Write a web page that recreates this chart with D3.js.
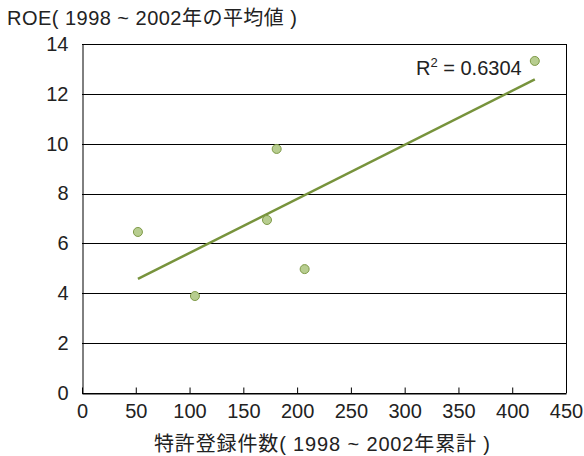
<!DOCTYPE html>
<html><head><meta charset="utf-8">
<script src="https://cdn.jsdelivr.net/npm/d3@7"></script>
<style>body{margin:0;background:#fff}</style>
</head><body>
<svg id="c" width="584" height="456"></svg>
<script>
const patents = [52, 105, 172, 181, 207, 421];
const roe = [6.46, 3.89, 6.94, 9.79, 4.97, 13.32];
const xTicks = [0, 50, 100, 150, 200, 250, 300, 350, 400, 450];
const yTicks = [0, 2, 4, 6, 8, 10, 12, 14];
const yTitle = "ROE( 1998 ~ 2002年の平均値 )";
const xTitle = "特許登録件数( 1998 ~ 2002年累計 )";
const r2Label = "0.6304";

const font = "'Liberation Sans', Arial, 'Noto Sans CJK JP', sans-serif";
const svg = d3.select("#c");
const x = d3.scaleLinear().domain([0, 450]).range([82, 566]);
const y = d3.scaleLinear().domain([0, 14]).range([393, 44]);

// gridlines
svg.append("g").selectAll("line").data(yTicks).join("line")
  .attr("x1", x(0)).attr("x2", x(450))
  .attr("y1", d => Math.round(y(d)) + 0.5).attr("y2", d => Math.round(y(d)) + 0.5)
  .attr("stroke", "#000").attr("stroke-width", 1);
// right border
svg.append("line").attr("x1", Math.round(x(450)) + 0.5).attr("x2", Math.round(x(450)) + 0.5)
  .attr("y1", y(14)).attr("y2", y(0)).attr("stroke", "#000");

// x axis
const xa = svg.append("g").attr("transform", `translate(0,${Math.round(y(0)) + 0.5})`)
  .call(d3.axisBottom(x).tickValues(xTicks).tickSizeInner(-6).tickSizeOuter(0).tickPadding(10));
xa.select(".domain").attr("stroke", "#000");
xa.selectAll("text").attr("font-family", font).attr("font-size", 20).attr("fill", "#222");
// y axis
const ya = svg.append("g").attr("transform", `translate(${Math.round(x(0)) + 0.5},0)`)
  .call(d3.axisLeft(y).tickValues(yTicks).tickSize(0).tickPadding(14));
ya.select(".domain").attr("stroke", "#000");
ya.selectAll("text").attr("font-family", font).attr("font-size", 20).attr("fill", "#222");

// regression
const n = patents.length;
const mx = d3.mean(patents), my = d3.mean(roe);
let sxy = 0, sxx = 0;
for (let i = 0; i < n; i++) { sxy += (patents[i]-mx)*(roe[i]-my); sxx += (patents[i]-mx)**2; }
const b = sxy / sxx, a = my - b * mx;
const x0 = d3.min(patents), x1 = d3.max(patents);
svg.append("line").attr("x1", x(x0)).attr("y1", y(a + b*x0)).attr("x2", x(x1)).attr("y2", y(a + b*x1))
  .attr("stroke", "#77933c").attr("stroke-width", 2.5);

// points
svg.append("g").selectAll("circle").data(patents).join("circle")
  .attr("cx", d => x(d)).attr("cy", (d, i) => y(roe[i])).attr("r", 4.5)
  .attr("fill", "#b7cd8f").attr("stroke", "#7f9a48").attr("stroke-width", 1);

// R2 label
const t = svg.append("text").attr("x", 416).attr("y", 75).attr("font-family", font)
  .attr("font-size", 20).attr("fill", "#222");
t.append("tspan").text("R");
t.append("tspan").text("2").attr("font-size", 13).attr("dy", -8);
t.append("tspan").text(" = " + r2Label).attr("dy", 8);

// titles
svg.append("text").attr("x", 7).attr("y", 25).attr("font-family", font).attr("font-size", 20)
  .attr("fill", "#222").attr("textLength", 290).attr("lengthAdjust", "spacing").text(yTitle);
svg.append("text").attr("x", 154).attr("y", 451).attr("font-family", font)
  .attr("font-size", 20).attr("fill", "#222").attr("textLength", 336).attr("lengthAdjust", "spacing").text(xTitle);
</script>
</body></html>
